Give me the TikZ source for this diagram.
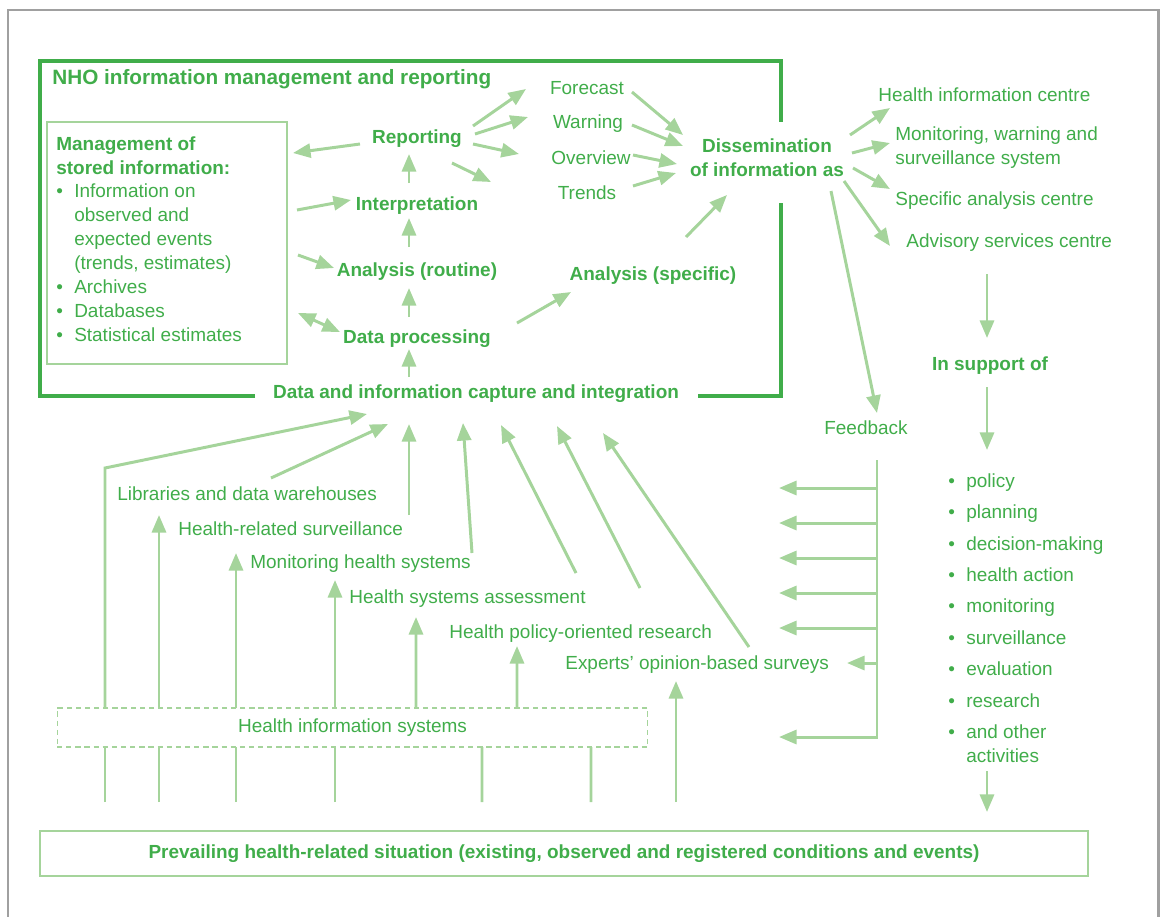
\documentclass[tikz,border=0pt]{standalone}
\usepackage{fontspec}
\setmainfont{Liberation Sans}
\usetikzlibrary{arrows.meta}
\definecolor{nhogreen}{RGB}{64,173,74}
\definecolor{lightgreen}{RGB}{165,212,155}
\definecolor{framegrey}{RGB}{160,160,160}
\newcommand{\itembul}{\makebox[10.2pt][l]{\textbullet}}
\newcommand{\itemgap}{\hspace*{10.2pt}}

\begin{document}
\begin{tikzpicture}[x=0.02cm,y=-0.02cm,
    boldtext/.style={font=\fontsize{10.8}{13.6}\selectfont\bfseries,text=nhogreen,inner sep=0pt},
    thintext/.style={font=\fontsize{10.8}{13.6}\selectfont,text=nhogreen,inner sep=0pt},
    conn/.style={draw=lightgreen,line width=1.7pt},
    arr/.style={conn,-{Triangle[length=10pt,width=8pt]}},
    dblarr/.style={conn,{Triangle[length=10pt,width=8pt]}-{Triangle[length=10pt,width=8pt]}},
    thinbox/.style={draw=lightgreen,line width=0.8pt,inner sep=0pt,outer sep=0pt}]
\useasboundingbox (0,0) rectangle (1161,917);
\draw[framegrey,line width=1.7pt] (8,930)--(8,10)--(1158,10)--(1158,930);
\draw[nhogreen,line width=2pt] (255,396)--(40,396)--(40,61)--(781,61)--(781,122);
\draw[nhogreen,line width=2pt] (781,203)--(781,396)--(698,396);

\node[boldtext,font=\fontsize{11.8}{14}\selectfont\bfseries,anchor=west] (nho) at (52,79) {NHO information management and reporting};
\node[thinbox,minimum width=4.8cm,minimum height=4.84cm] (mbox) at (167,243) {};
\node[thintext,anchor=north west,align=left] (mtext) at (56,136) {\textbf{Management of}\\\textbf{stored information:}\\\itembul Information on\\\itemgap observed and\\\itemgap expected events\\\itemgap (trends, estimates)\\\itembul Archives\\\itembul Databases\\\itembul Statistical estimates};

\node[boldtext] (rep) at (417,139) {Reporting};
\node[boldtext] (interp) at (417,206) {Interpretation};
\node[boldtext] (anr) at (417,272) {Analysis (routine)};
\node[boldtext] (dp) at (417,339) {Data processing};
\node[boldtext] (cap) at (476,394) {Data and information capture and integration};
\node[thintext] (fc) at (587,88) {Forecast};
\node[thintext] (wr) at (588,124) {Warning};
\node[thintext] (ov) at (591,158) {Overview};
\node[thintext] (tr) at (587,193) {Trends};
\node[boldtext] (ans) at (653,276) {Analysis (specific)};
\node[boldtext,align=center] (diss) at (767,158) {Dissemination\\of information as};
\node[thintext,anchor=west] (hic) at (878,95) {Health information centre};
\node[thintext,anchor=west,align=left] (mws) at (895,148) {Monitoring, warning and\\surveillance system};
\node[thintext,anchor=west] (sac) at (895,201) {Specific analysis centre};
\node[thintext,anchor=west] (asc) at (906,243) {Advisory services centre};
\node[boldtext] (sup) at (990,366) {In support of};
\node[thintext,anchor=north west,align=left] (act) at (948,473) {\itembul policy\\[4.3pt]\itembul planning\\[4.3pt]\itembul decision-making\\[4.3pt]\itembul health action\\[4.3pt]\itembul monitoring\\[4.3pt]\itembul surveillance\\[4.3pt]\itembul evaluation\\[4.3pt]\itembul research\\[4.3pt]\itembul and other\\\itemgap activities};
\node[thintext] (fb) at (866,428) {Feedback};
\node[thintext,anchor=west] (lib) at (117,494) {Libraries and data warehouses};
\node[thintext,anchor=west] (hrs) at (178,529) {Health-related surveillance};
\node[thintext,anchor=west] (mhs) at (250,564) {Monitoring health systems};
\node[thintext,anchor=west] (hsa) at (349,599) {Health systems assessment};
\node[thintext,anchor=west] (hpr) at (449,634) {Health policy-oriented research};
\node[thintext,anchor=west] (exp) at (565,665) {Experts' opinion-based surveys};
\node[thinbox,thintext,line width=0.6pt,dash pattern=on 3pt off 2.2pt,minimum width=11.82cm,minimum height=0.78cm] (his) at (352.5,727.5) {Health information systems};
\node[thinbox,boldtext,minimum width=20.96cm,minimum height=0.9cm] (prev) at (564,853.5) {Prevailing health-related situation (existing, observed and registered conditions and events)};

\draw[arr] ([shift={(-67,-17)}]cap.center) -- ([shift={(-8,10)}]dp.center);
\draw[arr] ([shift={(-8,-22)}]dp.center) -- ([shift={(-8,16)}]anr.center);
\draw[arr] ([shift={(-8,-25)}]anr.center) -- ([shift={(-8,12)}]interp.center);
\draw[arr] ([shift={(-8,-23)}]interp.center) -- ([shift={(-8,15)}]rep.center);
\draw[arr] ([shift={(-57,5)}]rep.center) -- ([shift={(126,-90)}]mbox.center);
\draw[arr] ([shift={(130,-33)}]mbox.center) -- ([shift={(-66,-6)}]interp.center);
\draw[arr] ([shift={(131,12)}]mbox.center) -- ([shift={(-83,-4)}]anr.center);
\draw[dblarr] ([shift={(131,70)}]mbox.center) -- ([shift={(-77,-7)}]dp.center);
\draw[arr] ([shift={(56,-13)}]rep.center) -- ([shift={(-61,1)}]fc.center);
\draw[arr] ([shift={(58,-5)}]rep.center) -- ([shift={(-60,-7)}]wr.center);
\draw[arr] ([shift={(56,5)}]rep.center) -- ([shift={(-72,-4)}]ov.center);
\draw[arr] ([shift={(35,24)}]rep.center) -- ([shift={(-96,-11)}]tr.center);
\draw[arr] ([shift={(45,4)}]fc.center) -- ([shift={(-84,-23)}]diss.center);
\draw[arr] ([shift={(44,1)}]wr.center) -- ([shift={(-84,-12)}]diss.center);
\draw[arr] ([shift={(42,-3)}]ov.center) -- ([shift={(-90,6)}]diss.center);
\draw[arr] ([shift={(46,-7)}]tr.center) -- ([shift={(-91,15)}]diss.center);
\draw[arr] ([shift={(100,-16)}]dp.center) -- ([shift={(-82,16)}]ans.center);
\draw[arr] ([shift={(33,-39)}]ans.center) -- ([shift={(-40,37)}]diss.center);
\draw[arr] ([shift={(83,-23)}]diss.center) -- ([shift={(12,13)}]hic.west);
\draw[arr] ([shift={(85,-5)}]diss.center) -- ([shift={(-5,-5)}]mws.west);
\draw[arr] ([shift={(86,10)}]diss.center) -- ([shift={(-5,-12)}]sac.west);
\draw[arr] ([shift={(77,23)}]diss.center) -- ([shift={(-16,3)}]asc.west);
\draw[arr] ([shift={(64,33)}]diss.center) -- ([shift={(11,-15)}]fb.center);
\draw[arr] ([shift={(81,31)}]asc.west) -- ([shift={(-3,-28)}]sup.center);
\draw[arr] ([shift={(-3,21)}]sup.center) -- ([shift={(39,-23)}]act.north west);
\draw[arr] ([shift={(39,298)}]act.north west) -- ([shift={(423,-41.5)}]prev.center);

\draw[arr] ([shift={(11,32)}]fb.center) -- ++(0,277) -- ++(-98,0);
\draw[arr] ([shift={(11,60)}]fb.center) -- ++(-98,0);
\draw[arr] ([shift={(11,95)}]fb.center) -- ++(-98,0);
\draw[arr] ([shift={(11,130)}]fb.center) -- ++(-98,0);
\draw[arr] ([shift={(11,165)}]fb.center) -- ++(-98,0);
\draw[arr] ([shift={(11,200)}]fb.center) -- ++(-98,0);
\draw[arr] ([shift={(11,235)}]fb.center) -- ([shift={(282,-2)}]exp.west);

\draw[conn] ([shift={(-459,-29)}]prev.north) -- ([shift={(-247.5,0)}]his.south);
\draw[conn] ([shift={(-405,-29)}]prev.north) -- ([shift={(-193.5,0)}]his.south);
\draw[conn] ([shift={(-328,-29)}]prev.north) -- ([shift={(-116.5,0)}]his.south);
\draw[conn] ([shift={(-229,-29)}]prev.north) -- ([shift={(-17.5,0)}]his.south);
\draw[conn] ([shift={(-82,-29)}]prev.north) -- ([shift={(129.5,0)}]his.south);
\draw[conn] ([shift={(27,-29)}]prev.north) -- ([shift={(238.5,0)}]his.south);
\draw[arr] ([shift={(-247.5,0)}]his.north) -- ++(0,-240) -- ([shift={(-109,20)}]cap.center);
\draw[arr] ([shift={(154,-16)}]lib.west) -- ([shift={(-88,30)}]cap.center);
\draw[arr] ([shift={(231,-14)}]hrs.west) -- ([shift={(-67,30)}]cap.center);
\draw[arr] ([shift={(222,-11)}]mhs.west) -- ([shift={(-13,29)}]cap.center);
\draw[arr] ([shift={(227,-26)}]hsa.west) -- ([shift={(25,31)}]cap.center);
\draw[arr] ([shift={(191,-46)}]hpr.west) -- ([shift={(81,32)}]cap.center);
\draw[arr] ([shift={(184,-18)}]exp.west) -- ([shift={(127,39)}]cap.center);
\draw[arr] ([shift={(-193.5,0)}]his.north) -- ([shift={(42,21)}]lib.west);
\draw[arr] ([shift={(-116.5,0)}]his.north) -- ([shift={(58,24)}]hrs.west);
\draw[arr] ([shift={(-17.5,0)}]his.north) -- ([shift={(85,16)}]mhs.west);
\draw[arr] ([shift={(63.5,0)}]his.north) -- ([shift={(67,18)}]hsa.west);
\draw[arr] ([shift={(164.5,0)}]his.north) -- ([shift={(68,12)}]hpr.west);
\draw[arr] ([shift={(112,-29)}]prev.north) -- ([shift={(111,16)}]exp.west);
\end{tikzpicture}
\end{document}
